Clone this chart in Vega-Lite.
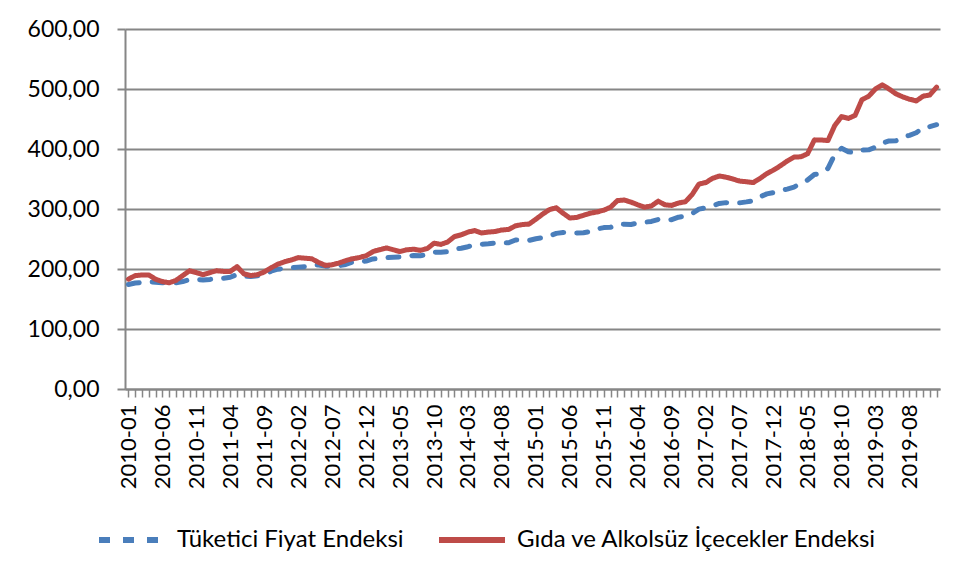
{
  "$schema": "https://vega.github.io/schema/vega-lite/v6.json",
  "width": 815,
  "height": 360,
  "autosize": {"type": "none"},
  "padding": {"left": 125, "top": 29, "right": 20, "bottom": 190},
  "background": "white",
  "config": {
    "view": {"stroke": null},
    "font": "Lato"
  },
  "data": {
    "values": [
      {"ay":"2010-01","t":174.07,"g":183},{"ay":"2010-02","t":176.59,"g":189},{"ay":"2010-03","t":177.62,"g":190},{"ay":"2010-04","t":178.68,"g":190},{"ay":"2010-05","t":178.04,"g":183},{"ay":"2010-06","t":177.04,"g":179},{"ay":"2010-07","t":176.19,"g":177},{"ay":"2010-08","t":176.90,"g":181},{"ay":"2010-09","t":179.07,"g":189},{"ay":"2010-10","t":182.35,"g":197},{"ay":"2010-11","t":182.40,"g":194},{"ay":"2010-12","t":181.85,"g":190.5},
      {"ay":"2011-01","t":182.60,"g":194},{"ay":"2011-02","t":183.93,"g":197},{"ay":"2011-03","t":184.70,"g":196},{"ay":"2011-04","t":186.30,"g":196},{"ay":"2011-05","t":190.81,"g":204},{"ay":"2011-06","t":188.08,"g":192},{"ay":"2011-07","t":187.31,"g":189},{"ay":"2011-08","t":188.68,"g":190.5},{"ay":"2011-09","t":190.09,"g":195},{"ay":"2011-10","t":196.31,"g":202},{"ay":"2011-11","t":199.70,"g":208},{"ay":"2011-12","t":200.85,"g":212},
      {"ay":"2012-01","t":201.98,"g":215},{"ay":"2012-02","t":203.12,"g":219},{"ay":"2012-03","t":203.96,"g":218},{"ay":"2012-04","t":207.05,"g":217},{"ay":"2012-05","t":206.61,"g":211},{"ay":"2012-06","t":204.76,"g":206},{"ay":"2012-07","t":204.29,"g":207},{"ay":"2012-08","t":205.43,"g":210},{"ay":"2012-09","t":207.55,"g":214},{"ay":"2012-10","t":211.62,"g":217},{"ay":"2012-11","t":212.43,"g":219},{"ay":"2012-12","t":213.23,"g":222},
      {"ay":"2013-01","t":216.74,"g":229},{"ay":"2013-02","t":217.39,"g":232},{"ay":"2013-03","t":218.83,"g":235},{"ay":"2013-04","t":219.75,"g":232},{"ay":"2013-05","t":220.07,"g":229},{"ay":"2013-06","t":221.75,"g":232},{"ay":"2013-07","t":222.44,"g":233},{"ay":"2013-08","t":222.21,"g":231},{"ay":"2013-09","t":223.92,"g":234},{"ay":"2013-10","t":227.95,"g":243},{"ay":"2013-11","t":227.97,"g":241},{"ay":"2013-12","t":229.01,"g":245},
      {"ay":"2014-01","t":233.54,"g":254},{"ay":"2014-02","t":234.54,"g":257},{"ay":"2014-03","t":237.18,"g":261.5},{"ay":"2014-04","t":240.37,"g":264},{"ay":"2014-05","t":241.32,"g":260},{"ay":"2014-06","t":242.07,"g":261.5},{"ay":"2014-07","t":243.17,"g":262.5},{"ay":"2014-08","t":243.40,"g":265},{"ay":"2014-09","t":243.83,"g":266},{"ay":"2014-10","t":248.37,"g":272},{"ay":"2014-11","t":248.78,"g":274},{"ay":"2014-12","t":247.72,"g":275},
      {"ay":"2015-01","t":250.45,"g":283},{"ay":"2015-02","t":252.24,"g":291.5},{"ay":"2015-03","t":255.23,"g":299},{"ay":"2015-04","t":259.39,"g":302},{"ay":"2015-05","t":260.85,"g":293},{"ay":"2015-06","t":260.50,"g":285},{"ay":"2015-07","t":260.04,"g":286},{"ay":"2015-08","t":260.44,"g":289.5},{"ay":"2015-09","t":262.37,"g":293},{"ay":"2015-10","t":266.74,"g":295},{"ay":"2015-11","t":268.98,"g":298},{"ay":"2015-12","t":269.54,"g":303},
      {"ay":"2016-01","t":274.45,"g":314},{"ay":"2016-02","t":274.40,"g":315},{"ay":"2016-03","t":274.29,"g":311.5},{"ay":"2016-04","t":276.42,"g":307},{"ay":"2016-05","t":278.02,"g":303},{"ay":"2016-06","t":279.33,"g":305},{"ay":"2016-07","t":282.57,"g":313},{"ay":"2016-08","t":281.76,"g":307},{"ay":"2016-09","t":282.26,"g":306},{"ay":"2016-10","t":286.33,"g":310},{"ay":"2016-11","t":287.81,"g":312},{"ay":"2016-12","t":292.54,"g":324},
      {"ay":"2017-01","t":299.74,"g":341.5},{"ay":"2017-02","t":302.17,"g":344},{"ay":"2017-03","t":305.24,"g":351},{"ay":"2017-04","t":309.23,"g":355},{"ay":"2017-05","t":310.61,"g":353},{"ay":"2017-06","t":309.76,"g":350},{"ay":"2017-07","t":310.23,"g":346.5},{"ay":"2017-08","t":311.85,"g":345.5},{"ay":"2017-09","t":313.87,"g":344},{"ay":"2017-10","t":320.41,"g":351},{"ay":"2017-11","t":325.18,"g":359},{"ay":"2017-12","t":327.41,"g":365},
      {"ay":"2018-01","t":330.75,"g":372},{"ay":"2018-02","t":333.17,"g":380},{"ay":"2018-03","t":336.48,"g":386.5},{"ay":"2018-04","t":342.78,"g":387},{"ay":"2018-05","t":348.34,"g":392},{"ay":"2018-06","t":357.43,"g":415},{"ay":"2018-07","t":359.40,"g":415},{"ay":"2018-08","t":367.66,"g":414},{"ay":"2018-09","t":390.84,"g":439},{"ay":"2018-10","t":401.25,"g":454},{"ay":"2018-11","t":395.47,"g":451},{"ay":"2018-12","t":393.88,"g":456},
      {"ay":"2019-01","t":398.05,"g":482},{"ay":"2019-02","t":398.70,"g":488},{"ay":"2019-03","t":402.82,"g":500},{"ay":"2019-04","t":409.61,"g":507},{"ay":"2019-05","t":413.49,"g":500},{"ay":"2019-06","t":413.60,"g":492},{"ay":"2019-07","t":419.26,"g":487},{"ay":"2019-08","t":422.85,"g":483},{"ay":"2019-09","t":427.04,"g":480},{"ay":"2019-10","t":435.57,"g":488},{"ay":"2019-11","t":437.25,"g":490},{"ay":"2019-12","t":440.50,"g":503}
    ]
  },
  "transform": [
    {"fold": ["t", "g"], "as": ["seri", "deger"]}
  ],
  "mark": {"type": "line", "strokeWidth": 5, "strokeCap": "round", "strokeJoin": "round"},
  "encoding": {
    "x": {
      "field": "ay",
      "type": "ordinal",
      "scale": {"type": "point", "padding": 0.5},
      "axis": {
        "title": null,
        "labelAngle": -90,
        "labelAlign": "right",
        "labelBaseline": "middle",
        "labelFont": "Lato",
        "labelFontSize": 22,
        "labelColor": "#000000",
        "labelPadding": 7,
        "labelOverlap": false,
        "labelExpr": "(toNumber(substring(datum.value,0,4))*12 + toNumber(substring(datum.value,5,7)) - 1) % 5 == 0 ? datum.value : ''",
        "tickSize": 8,
        "tickColor": "#868686",
        "tickWidth": 1.5,
        "domainColor": "#868686",
        "domainWidth": 2,
        "grid": false
      }
    },
    "y": {
      "field": "deger",
      "type": "quantitative",
      "scale": {"domain": [0, 600], "nice": false},
      "axis": {
        "title": null,
        "values": [0, 100, 200, 300, 400, 500, 600],
        "labelExpr": "replace(format(datum.value, '.2f'), '.', ',')",
        "labelFont": "Lato",
        "labelFontSize": 23,
        "labelColor": "#000000",
        "labelPadding": 18,
        "tickSize": 8,
        "tickColor": "#868686",
        "tickWidth": 2,
        "domainColor": "#868686",
        "domainWidth": 2,
        "grid": true,
        "gridColor": "#868686",
        "gridWidth": 2
      }
    },
    "color": {
      "field": "seri",
      "type": "nominal",
      "scale": {"domain": ["t", "g"], "range": ["#4A7EBB", "#BE4B48"]},
      "legend": {
        "title": null,
        "orient": "none",
        "legendX": -29,
        "legendY": 475,
        "direction": "horizontal",
        "padding": 0,
        "symbolType": "stroke",
        "symbolSize": 4356,
        "symbolStrokeWidth": 6,
        "labelFont": "Lato",
        "labelFontSize": 24,
        "labelColor": "#000000",
        "labelOffset": 9,
        "columnPadding": 23,
        "labelLimit": 1000,
        "labelExpr": "datum.value == 't' ? 'Tüketici Fiyat Endeksi' : 'Gıda ve Alkolsüz İçecekler Endeksi'"
      }
    },
    "strokeDash": {
      "field": "seri",
      "type": "nominal",
      "scale": {"domain": ["t", "g"], "range": [[11, 13], [1, 0]]},
      "legend": null
    }
  }
}
